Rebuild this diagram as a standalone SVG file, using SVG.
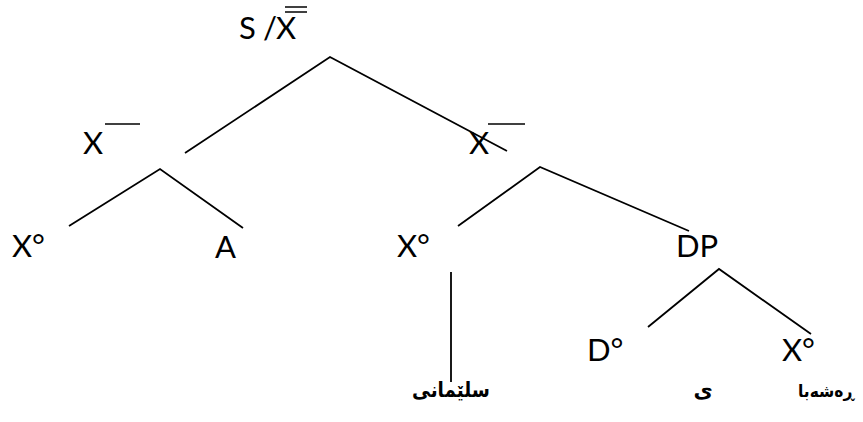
<svg xmlns="http://www.w3.org/2000/svg" width="863" height="422" viewBox="0 0 863 422">
<style>
.lbl{font-family:Lato,"Open Sans","Liberation Sans",sans-serif;font-size:31px;fill:#000}
.ar{font-family:"DejaVu Sans","Noto Sans",sans-serif;font-size:21px;font-weight:bold;fill:#000;text-anchor:middle}
.e{stroke:#000;stroke-width:1.8;fill:none}
.bar{stroke:#000;stroke-width:1.5}
</style>
<rect width="863" height="422" fill="#fff"/>
<g id="connectors">
<polyline class="e" points="185,153 330,57 507,151"/>
<polyline class="e" points="69,226 160,169 243,228"/>
<polyline class="e" points="458,226 540,167 689,231"/>
<line class="e" x1="451" y1="272" x2="451" y2="382"/>
<polyline class="e" points="648,327 719,269 811,334"/>
</g>
<g id="root">
<text class="lbl" x="239" y="39">S</text>
<text class="lbl" x="263" y="39">/</text>
<text class="lbl" x="276" y="39">X</text>
<line class="bar" x1="285" y1="7" x2="307" y2="7"/>
<line class="bar" x1="285" y1="12" x2="307" y2="12"/>
</g>
<g id="xbar-left">
<text class="lbl" x="83" y="154">X</text>
<line class="bar" x1="105" y1="124" x2="140" y2="124"/>
</g>
<g id="xbar-right">
<text class="lbl" x="469" y="154">X</text>
<line class="bar" x1="488" y1="124" x2="525" y2="124"/>
</g>
<g id="x0-left"><text class="lbl" x="12" y="257">X°</text></g>
<g id="a"><text class="lbl" x="215" y="258">A</text></g>
<g id="x0-mid"><text class="lbl" x="397" y="257">X°</text></g>
<g id="dp"><text class="lbl" x="676" y="257">DP</text></g>
<g id="d0"><text class="lbl" x="587" y="361">D°</text></g>
<g id="x0-right"><text class="lbl" x="782" y="361">X°</text></g>
<g id="w-sulaimani"><text class="ar" x="451" y="397" textLength="78" lengthAdjust="spacingAndGlyphs">سلێمانی</text></g>
<g id="w-y"><text class="ar" x="703" y="397">ى</text></g>
<g id="w-rashaba"><text class="ar" x="826" y="397" style="font-size:17px" textLength="56" lengthAdjust="spacingAndGlyphs">ڕەشەبا</text></g>
</svg>
